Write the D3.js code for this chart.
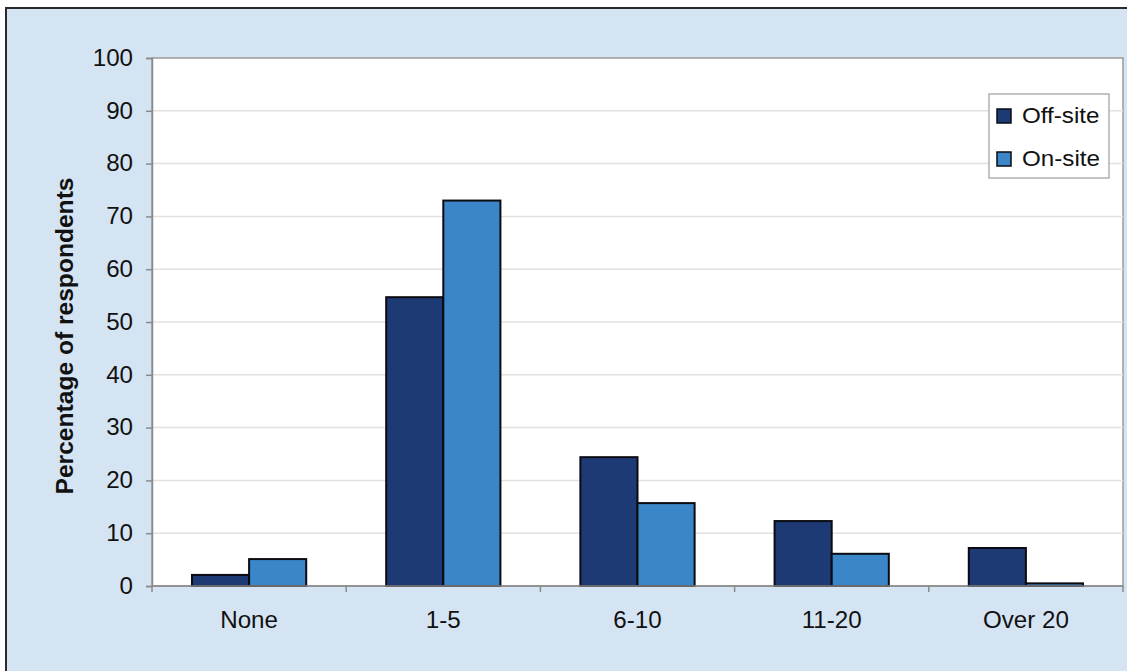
<!DOCTYPE html>
<html>
<head>
<meta charset="utf-8">
<script src="https://cdn.jsdelivr.net/npm/d3@7"></script>
<style>
  html, body { margin: 0; padding: 0; background: #ffffff; }
  svg { display: block; }
  text { font-family: "Liberation Sans", Arial, sans-serif; fill: #111; }
</style>
</head>
<body>
<svg id="chart" width="1127" height="671"></svg>
<script>
// Number of visits, by location of the setting
const categories = ["None", "1-5", "6-10", "11-20", "Over 20"];
const seriesNames = ["Off-site", "On-site"];
const offSite = [2.1, 54.7, 24.4, 12.3, 7.2];
const onSite = [5.1, 73.0, 15.7, 6.1, 0.5];
const yTicks = [0, 10, 20, 30, 40, 50, 60, 70, 80, 90, 100];
const colors = ["#1d3a74", "#3a86c8"];

const svg = d3.select("#chart");
const W = 1127, H = 671;
const plot = { left: 152, top: 58, right: 1123, bottom: 586 };
const textStretch = 1.05;

// Outer panel
svg.append("rect").attr("x", 0).attr("y", 0).attr("width", W).attr("height", H).attr("fill", "#ffffff");
svg.append("rect")
  .attr("x", 6).attr("y", 8).attr("width", W + 10).attr("height", H + 10)
  .attr("fill", "#d5e4f2").attr("stroke", "#2a2a2a").attr("stroke-width", 2);

// Plot area
svg.append("rect")
  .attr("x", plot.left).attr("y", plot.top)
  .attr("width", plot.right - plot.left).attr("height", plot.bottom - plot.top)
  .attr("fill", "#ffffff").attr("stroke", "#9a9a9a").attr("stroke-width", 1.5);

const x = d3.scaleBand().domain(categories).range([plot.left, plot.right]).paddingInner(0).paddingOuter(0);
const y = d3.scaleLinear().domain([0, 100]).range([plot.bottom, plot.top]);
const xs = d3.scaleBand().domain(seriesNames).range([0, x.bandwidth()]).paddingInner(0).paddingOuter(0.7);

// Horizontal gridlines
svg.append("g").selectAll("line")
  .data(yTicks.filter(d => d > 0 && d < 100))
  .join("line")
  .attr("x1", plot.left).attr("x2", plot.right)
  .attr("y1", d => y(d)).attr("y2", d => y(d))
  .attr("stroke", "#e2e2e2").attr("stroke-width", 1.5);

// Bars
const rows = categories.map((c, i) => ({ cat: c, vals: [offSite[i], onSite[i]] }));
const groups = svg.append("g").selectAll("g")
  .data(rows).join("g")
  .attr("transform", d => `translate(${x(d.cat)},0)`);
groups.selectAll("rect")
  .data(d => d.vals.map((v, k) => ({ name: seriesNames[k], v, k })))
  .join("rect")
  .attr("x", d => xs(d.name))
  .attr("width", xs.bandwidth())
  .attr("y", d => y(d.v))
  .attr("height", d => y(0) - y(d.v))
  .attr("fill", d => colors[d.k])
  .attr("stroke", "#0b0b12").attr("stroke-width", 2);

// Y axis
const yAxis = svg.append("g")
  .attr("transform", `translate(${plot.left},0)`)
  .call(d3.axisLeft(y).tickValues(yTicks).tickSize(6).tickPadding(13));
yAxis.select(".domain").attr("stroke", "#8a8a8a").attr("stroke-width", 1.5);
yAxis.selectAll(".tick line").attr("stroke", "#8a8a8a").attr("stroke-width", 1.5);
yAxis.selectAll(".tick text")
  .attr("font-size", 23).attr("fill", "#111")
  .attr("font-family", "Liberation Sans, Arial, sans-serif")
  .attr("transform", function () {
    const tx = +d3.select(this).attr("x");
    return `translate(${tx * (1 - textStretch)},0) scale(${textStretch},1)`;
  });

// X axis with tick marks at category boundaries
const xAxisG = svg.append("g").attr("transform", `translate(0,${plot.bottom})`);
xAxisG.append("line")
  .attr("x1", plot.left).attr("x2", plot.right).attr("y1", 0).attr("y2", 0)
  .attr("stroke", "#8a8a8a").attr("stroke-width", 1.5);
const boundaries = categories.map(c => x(c)).concat([plot.right]);
xAxisG.selectAll("line.tk").data(boundaries).join("line")
  .attr("class", "tk")
  .attr("x1", d => d).attr("x2", d => d).attr("y1", 0).attr("y2", 6)
  .attr("stroke", "#8a8a8a").attr("stroke-width", 1.5);
xAxisG.selectAll("text").data(categories).join("text")
  .attr("text-anchor", "middle")
  .attr("font-size", 23)
  .attr("transform", d => `translate(${x(d) + x.bandwidth() / 2},42) scale(${textStretch},1)`)
  .text(d => d);

// Y axis title
svg.append("text")
  .attr("transform", `translate(73,${(plot.top + plot.bottom) / 2 + 14}) rotate(-90) scale(1.07,1)`)
  .attr("text-anchor", "middle")
  .attr("font-size", 23).attr("font-weight", "bold")
  .text("Percentage of respondents");

// Legend
const legend = svg.append("g").attr("transform", "translate(989,94)");
legend.append("rect").attr("width", 120).attr("height", 84)
  .attr("fill", "#ffffff").attr("stroke", "#b0b0b0").attr("stroke-width", 1.5);
const items = legend.selectAll("g").data(seriesNames).join("g")
  .attr("transform", (d, i) => `translate(8,${15 + i * 43})`);
items.append("rect").attr("width", 14).attr("height", 14)
  .attr("fill", (d, i) => colors[i]).attr("stroke", "#0b0b12").attr("stroke-width", 1.5);
items.append("text")
  .attr("transform", `translate(25,14) scale(1.1,1)`)
  .attr("font-size", 22)
  .text(d => d);
</script>
</body>
</html>
